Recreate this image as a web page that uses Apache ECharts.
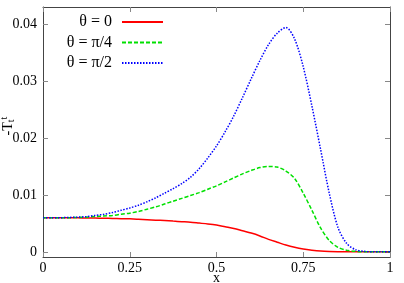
<!DOCTYPE html>
<html><head><meta charset="utf-8">
<script src="https://cdn.jsdelivr.net/npm/echarts@6/dist/echarts.min.js"></script>
<style>html,body{margin:0;padding:0;background:#fff}#c{width:404px;height:283px}</style>
</head><body><div id="c"></div>
<script>
const xs = [0,0.025,0.05,0.075,0.1,0.125,0.15,0.175,0.2,0.225,0.25,0.275,0.3,0.325,0.35,0.375,0.4,0.425,0.45,0.475,0.5,0.525,0.55,0.575,0.6,0.625,0.65,0.675,0.7,0.725,0.75,0.775,0.8,0.825,0.85,0.875,0.9,0.925,0.95,0.975,1];
const theta0 = [0.0060,0.0060,0.0060,0.0060,0.00598,0.00596,0.00594,0.0059,0.00588,0.00583,0.0058,0.00573,0.00565,0.00557,0.0055,0.0054,0.0053,0.0052,0.00505,0.0049,0.0047,0.0044,0.0041,0.0037,0.0033,0.0028,0.0022,0.0017,0.0012,0.0008,0.0005,0.0003,0.00015,0.00007,0.00003,0.00001,0,0,0,0,0];
const thetaPi4 = [0.0060,0.0060,0.0060,0.0060,0.00605,0.0061,0.0062,0.0063,0.0064,0.0066,0.0068,0.0071,0.0075,0.0079,0.0084,0.0089,0.0094,0.0099,0.0104,0.0110,0.0116,0.0123,0.0130,0.0137,0.0143,0.0148,0.0150,0.0149,0.0142,0.0129,0.0103,0.0073,0.0042,0.0020,0.0008,0.0003,0.0001,0,0,0,0];
const thetaPi2 = [0.0060,0.0060,0.0060,0.00605,0.0061,0.0062,0.0064,0.0066,0.0069,0.0073,0.0077,0.0082,0.0088,0.0095,0.0103,0.0111,0.0120,0.0131,0.0146,0.0165,0.0186,0.0211,0.0239,0.0271,0.0304,0.0336,0.0364,0.0384,0.0394,0.0374,0.0325,0.0256,0.0180,0.0103,0.0043,0.0015,0.0004,0.0001,0,0,0];
const seriesNames = ['θ = 0','θ = π/4','θ = π/2'];
const xTicks = [0,0.25,0.5,0.75,1];
const yTicks = [0,0.01,0.02,0.03,0.04];

const font = 'Liberation Serif';
const axisColor = '#444';
const colors = ['#ff0000','#00e000','#0000ff'];
const types = ['solid',[4,2],[1.5,1.5]];
const datasets = [theta0, thetaPi4, thetaPi2];

const chart = echarts.init(document.getElementById('c'), null, {renderer:'canvas'});
const baseX = {type:'value', min:0, max:1, interval:0.25,
  axisLine:{show:true,onZero:false,lineStyle:{color:axisColor,width:1}},
  axisTick:{show:true,inside:true,length:5,lineStyle:{color:'#888'}},
  splitLine:{show:false}};
const baseY = {type:'value', min:-0.0009, max:0.043,
  axisLine:{show:true,onZero:false,lineStyle:{color:axisColor,width:1}},
  axisTick:{show:true,inside:true,length:5,customValues:yTicks,lineStyle:{color:'#888'}},
  splitLine:{show:false}};

const legends = seriesNames.map((n,i)=>({
  data:[n], right:240, top:14+i*20.5, align:'right', orient:'vertical',
  itemWidth:41, itemHeight:14, selectedMode:false,
  itemStyle:{opacity:0},
  textStyle:{fontFamily:font,fontSize:16,color:'#000',padding:[0,5,0,0]},
  padding:0
}));

chart.setOption({
  animation:false,
  backgroundColor:'#fff',
  grid:{left:43,right:14,top:7,bottom:26,containLabel:false,outerBoundsMode:'none'},
  legend:legends,
  xAxis:[
    Object.assign({}, baseX, {position:'bottom',
      name:'x', nameLocation:'middle', nameGap:14, nameMoveOverlap:false,
      nameTextStyle:{fontFamily:font,fontSize:14,color:'#000'},
      axisLabel:{show:true,margin:4,fontFamily:font,fontSize:14,color:'#000',
        formatter:v=>String(v)}}),
    Object.assign({}, baseX, {position:'top', axisLabel:{show:false}})
  ],
  yAxis:[
    Object.assign({}, baseY, {position:'left',
      name:'{m|-T}{sub|t}{sup|t}', nameLocation:'middle', nameGap:28, nameRotate:90, nameMoveOverlap:false,
      nameTextStyle:{fontFamily:font,fontSize:14,color:'#000',padding:[0,0,0,12],
        rich:{m:{fontFamily:font,fontSize:14,color:'#000'},
              sub:{fontFamily:font,fontSize:10,color:'#000',padding:[0,0,-6,0]},
              sup:{fontFamily:font,fontSize:10,color:'#000',padding:[-8,0,0,0]}}},
      axisLabel:{show:true,margin:6,customValues:yTicks,fontFamily:font,fontSize:14,color:'#000',
        formatter:v=>String(+v.toFixed(2))}}),
    Object.assign({}, baseY, {position:'right', axisLabel:{show:false}})
  ],
  series: seriesNames.map((n,i)=>({
    name:n, type:'line', smooth:0.3, showSymbol:false, symbol:'none',
    xAxisIndex:0, yAxisIndex:0,
    data: xs.map((x,j)=>[x, datasets[i][j]]),
    lineStyle:{color:colors[i], width:1.5, type:types[i]},
    itemStyle:{color:colors[i]}
  }))
});
</script></body></html>
